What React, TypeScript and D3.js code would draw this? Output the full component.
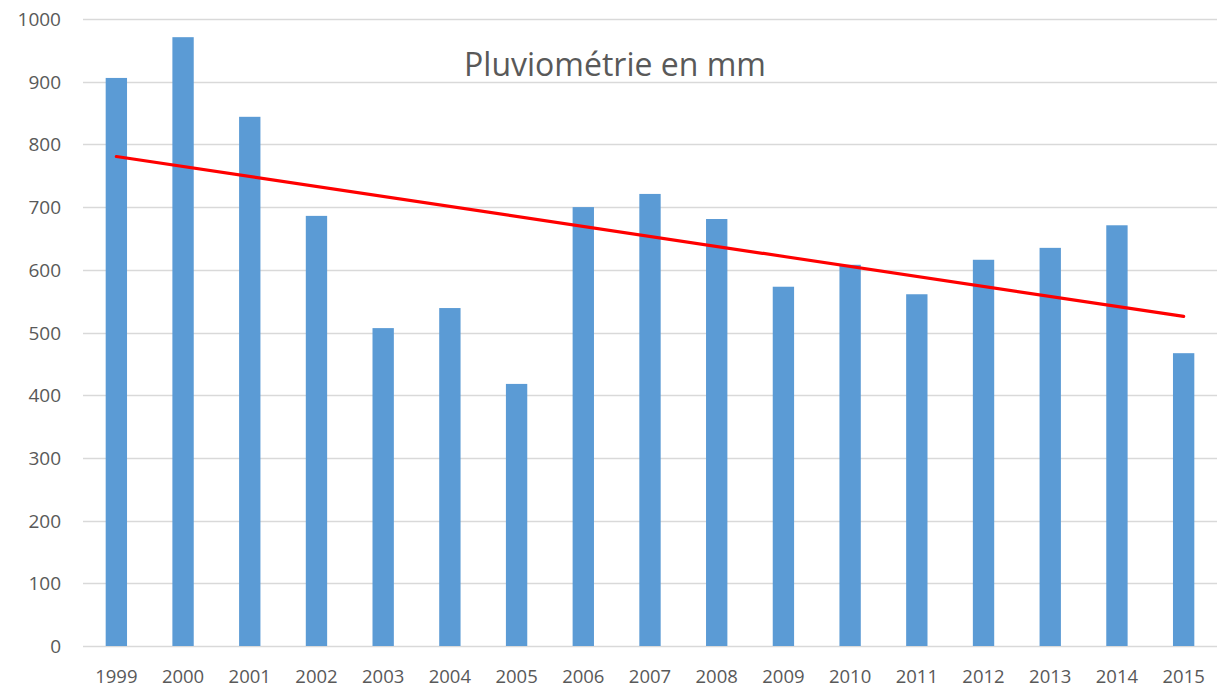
import { useEffect, useRef } from 'react'
import * as d3 from 'd3'

const years = [
  '1999', '2000', '2001', '2002', '2003', '2004', '2005', '2006', '2007',
  '2008', '2009', '2010', '2011', '2012', '2013', '2014', '2015',
]
const rainfall = [
  906, 971, 844, 686, 507, 539, 418, 700, 721,
  681, 573, 608, 561, 616, 635, 671, 467,
]
const yTicks = [0, 100, 200, 300, 400, 500, 600, 700, 800, 900, 1000]
const title = 'Pluviométrie en mm'

export default function App() {
  const ref = useRef<SVGSVGElement | null>(null)

  useEffect(() => {
    if (!ref.current) return

    const width = 1218
    const height = 689
    const margin = { top: 19, right: 1, bottom: 43, left: 83 }
    const innerWidth = width - margin.left - margin.right
    const innerHeight = height - margin.top - margin.bottom
    const font = "'Open Sans', 'Noto Sans', sans-serif"

    const svg = d3.select(ref.current)
    svg.selectAll('*').remove()

    const x = d3
      .scaleBand()
      .domain(years)
      .range([0, innerWidth])
      .paddingInner(0.68)
      .paddingOuter(0.34)

    const y = d3.scaleLinear().domain([0, 1000]).range([innerHeight, 0])

    const g = svg
      .append('g')
      .attr('transform', `translate(${margin.left},${margin.top})`)

    // grid
    g.selectAll('.grid')
      .data(yTicks)
      .enter()
      .append('line')
      .attr('class', 'grid')
      .attr('x1', 0)
      .attr('x2', innerWidth)
      .attr('y1', (d) => Math.round(y(d)) + 0.5)
      .attr('y2', (d) => Math.round(y(d)) + 0.5)
      .attr('stroke', '#d9d9d9')
      .attr('stroke-width', 1.3)

    // y labels
    g.selectAll('.ylab')
      .data(yTicks)
      .enter()
      .append('text')
      .attr('class', 'ylab')
      .attr('x', -22)
      .attr('y', (d) => y(d) + 7)
      .attr('text-anchor', 'end')
      .attr('fill', '#595959')
      .attr('font-family', font)
      .attr('font-size', 19)
      .text((d) => d)

    // x labels
    g.selectAll('.xlab')
      .data(years)
      .enter()
      .append('text')
      .attr('class', 'xlab')
      .attr('x', (d) => (x(d) ?? 0) + x.bandwidth() / 2)
      .attr('y', innerHeight + 37)
      .attr('text-anchor', 'middle')
      .attr('fill', '#595959')
      .attr('font-family', font)
      .attr('font-size', 18.5)
      .text((d) => d)

    // bars
    g.selectAll('.bar')
      .data(years)
      .enter()
      .append('rect')
      .attr('class', 'bar')
      .attr('x', (d) => x(d) ?? 0)
      .attr('y', (_, i) => y(rainfall[i]))
      .attr('width', x.bandwidth())
      .attr('height', (_, i) => innerHeight - y(rainfall[i]))
      .attr('fill', '#5b9bd5')

    // linear trend (least squares)
    const n = rainfall.length
    const idx = d3.range(n)
    const mx = d3.mean(idx) ?? 0
    const my = d3.mean(rainfall) ?? 0
    const slope =
      d3.sum(idx, (i) => (i - mx) * (rainfall[i] - my)) /
      d3.sum(idx, (i) => (i - mx) * (i - mx))
    const intercept = my - slope * mx
    const trend: [number, number][] = [0, n - 1].map((i) => [
      (x(years[i]) ?? 0) + x.bandwidth() / 2,
      y(intercept + slope * i),
    ])
    g.append('path')
      .attr('d', d3.line()(trend))
      .attr('fill', 'none')
      .attr('stroke', '#ff0000')
      .attr('stroke-width', 3.2)
      .attr('stroke-linecap', 'round')

    // title
    svg
      .append('text')
      .attr('x', 615)
      .attr('y', 76)
      .attr('text-anchor', 'middle')
      .attr('fill', '#595959')
      .attr('font-family', font)
      .attr('font-size', 32)
      .text(title)
  }, [])

  return (
    <svg
      ref={ref}
      width={1218}
      height={689}
      viewBox="0 0 1218 689"
      style={{ position: 'absolute', left: 0, top: 0, background: '#fff' }}
      role="img"
      aria-label={title}
    />
  )
}
